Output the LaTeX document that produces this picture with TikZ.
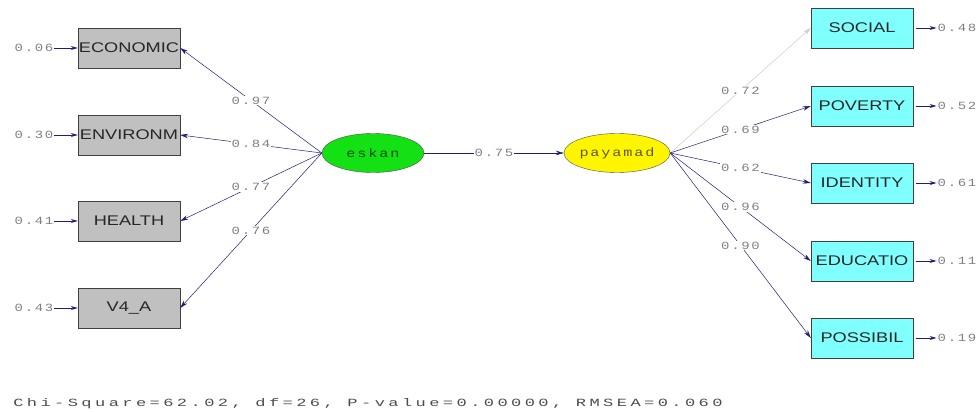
\documentclass[tikz,border=0pt]{standalone}
\usepackage{fontspec}
\setmainfont{Liberation Sans}
\newfontfamily\coeffont[LetterSpace=12]{Liberation Mono}
\newfontfamily\fitfont[LetterSpace=20]{Liberation Mono}
\usetikzlibrary{arrows.meta,shapes.geometric}
\definecolor{navyline}{RGB}{30,30,120}
\definecolor{boxgray}{RGB}{192,192,192}
\definecolor{boxcyan}{RGB}{128,255,255}
\definecolor{latgreen}{RGB}{20,225,20}
\definecolor{latyellow}{RGB}{255,245,0}
\newcommand{\wide}[2][1.27]{\scalebox{#1}[1]{#2}}
\begin{document}
\begin{tikzpicture}
  [x=1pt,y=-1pt,
   obsgray/.style={draw=black!75,fill=boxgray,minimum width=102pt,minimum height=40pt,inner sep=0pt,
     font=\fontsize{14}{14}\selectfont,text=black!85},
   obscyan/.style={obsgray,fill=boxcyan},
   latent/.style={ellipse,draw=black!70,minimum width=102pt,minimum height=39pt,inner sep=0pt,
     font=\coeffont\fontsize{12}{12}\selectfont},
   coef/.style={fill=white,inner sep=1pt,text=black!50,font=\coeffont\fontsize{11}{11}\selectfont},
   load/.style={navyline,line width=.5pt,-{Stealth[length=8pt,width=4.5pt]}},
   err/.style={navyline,line width=.8pt,-{Stealth[length=7pt,width=4pt]}}]
  \useasboundingbox (0,0) rectangle (980,412);

  \node[latent,fill=latgreen,text=green!30!black] (eskan) at (373,153) {\wide{eskan}};
  \node[latent,fill=latyellow,text=olive!55!black] (payamad) at (617,153) {\wide{payamad}};

  \node[obsgray] (econ)   at (129,48)  {\wide[1.3]{ECONOMIC}};
  \node[obsgray] (envir)  at (129,135) {\wide[1.3]{ENVIRONM}};
  \node[obsgray] (health) at (129,221) {\wide[1.3]{HEALTH}};
  \node[obsgray] (vfour)  at (129,308) {\wide[1.3]{V4\_A}};

  \node[obscyan] (social)   at (862,28)  {\wide[1.3]{SOCIAL}};
  \node[obscyan] (poverty)  at (862,106) {\wide[1.3]{POVERTY}};
  \node[obscyan] (identity) at (862,183) {\wide[1.3]{IDENTITY}};
  \node[obscyan] (educ)     at (862,261) {\wide[1.3]{EDUCATIO}};
  \node[obscyan] (possib)   at (862,338) {\wide[1.3]{POSSIBIL}};

  % error variances
  \foreach \to/\y/\v in {econ/48/0.06,envir/135/0.30,health/221/0.41,vfour/308/0.43}{
    \node[coef,fill=none] (e\to) at (34,\y) {\wide{\v}};
    \draw[err] (e\to.east) -- (\to.west);
  }
  \foreach \from/\y/\v in {social/28/0.48,poverty/106/0.52,identity/183/0.61,educ/261/0.11,possib/338/0.19}{
    \node[coef,fill=none] (e\from) at (957,\y) {\wide{\v}};
    \draw[err,shorten <=3pt] (\from.east) -- (e\from.west);
  }

  % loadings
  \foreach \to/\v in {econ/0.97,envir/0.84,health/0.77,vfour/0.76}
    \draw[load] (eskan.west) -- node[coef] {\wide{\v}} (\to.east);
  \draw[load,black!20] (payamad.east) -- node[coef] {\wide{0.72}} (social.west);
  \foreach \to/\v in {poverty/0.69,identity/0.62,educ/0.96,possib/0.90}
    \draw[load] (payamad.east) -- node[coef] {\wide{\v}} (\to.west);

  \draw[load] (eskan.east) -- node[coef] {\wide{0.75}} (payamad.west);

  \node[coef,fill=none,text=black!70,font=\fitfont\fontsize{11}{11}\selectfont] (fit) at (368,404)
    {\wide[1.55]{Chi-Square=62.02, df=26, P-value=0.00000, RMSEA=0.060}};
\end{tikzpicture}
\end{document}
